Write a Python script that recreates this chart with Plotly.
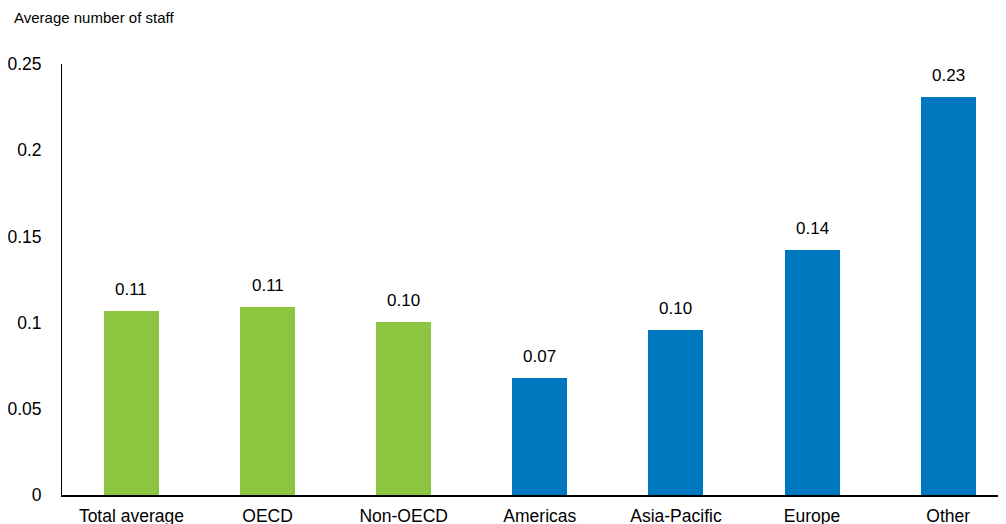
import plotly.graph_objects as go

categories = ["Total average", "OECD", "Non-OECD", "Americas", "Asia-Pacific", "Europe", "Other"]
values = [0.107, 0.109, 0.1005, 0.068, 0.096, 0.142, 0.231]
bar_colors = ["#8cc640", "#8cc640", "#8cc640", "#0078bf", "#0078bf", "#0078bf", "#0078bf"]
y_ticks = [0, 0.05, 0.1, 0.15, 0.2, 0.25]
y_tick_labels = ["0", "0.05", "0.1", "0.15", "0.2", "0.25"]
y_title = "Average number of staff"

FONT = "Liberation Sans, Arial, sans-serif"
xpos = list(range(len(categories)))

# page body has an 8px default margin, so the figure is drawn 8px smaller
W, H = 998, 516

fig = go.Figure()
fig.add_trace(go.Bar(
    x=xpos, y=values, width=0.404,
    marker=dict(color=bar_colors, line=dict(width=0)),
    hoverinfo="skip",
))

for xi, v in zip(xpos, values):
    fig.add_annotation(
        x=xi, y=v, xref="x", yref="y",
        text=f"{v:.2f}", showarrow=False,
        yanchor="bottom", yshift=10,
        font=dict(family=FONT, size=17, color="#000000"),
    )

fig.update_layout(
    width=W, height=H,
    margin=dict(l=54, r=2, t=56, b=29, autoexpand=False),
    paper_bgcolor="white", plot_bgcolor="white",
    showlegend=False,
    bargap=0,
    title=dict(
        text=y_title, x=6 / W, xanchor="left", xref="container",
        y=1 - 10 / H, yanchor="middle", yref="container",
        font=dict(family=FONT, size=15, color="#000000"),
    ),
    font=dict(family=FONT, size=17, color="#000000"),
)

fig.update_xaxes(
    range=[-0.51, 6.41],
    tickmode="array", tickvals=xpos, ticktext=categories,
    showgrid=False, zeroline=False,
    showline=True, linecolor="#000000", linewidth=2,
    ticks="", tickfont=dict(family=FONT, size=17.5, color="#000000"),
    ticklabelstandoff=4, automargin=False,
)
fig.update_yaxes(
    range=[0, 0.25],
    tickmode="array", tickvals=y_ticks, ticktext=y_tick_labels,
    showgrid=False, zeroline=False,
    showline=True, linecolor="#000000", linewidth=1,
    ticks="", tickfont=dict(family=FONT, size=17.5, color="#000000"),
    ticklabelstandoff=16, automargin=False,
)

fig.write_html("out.html")
